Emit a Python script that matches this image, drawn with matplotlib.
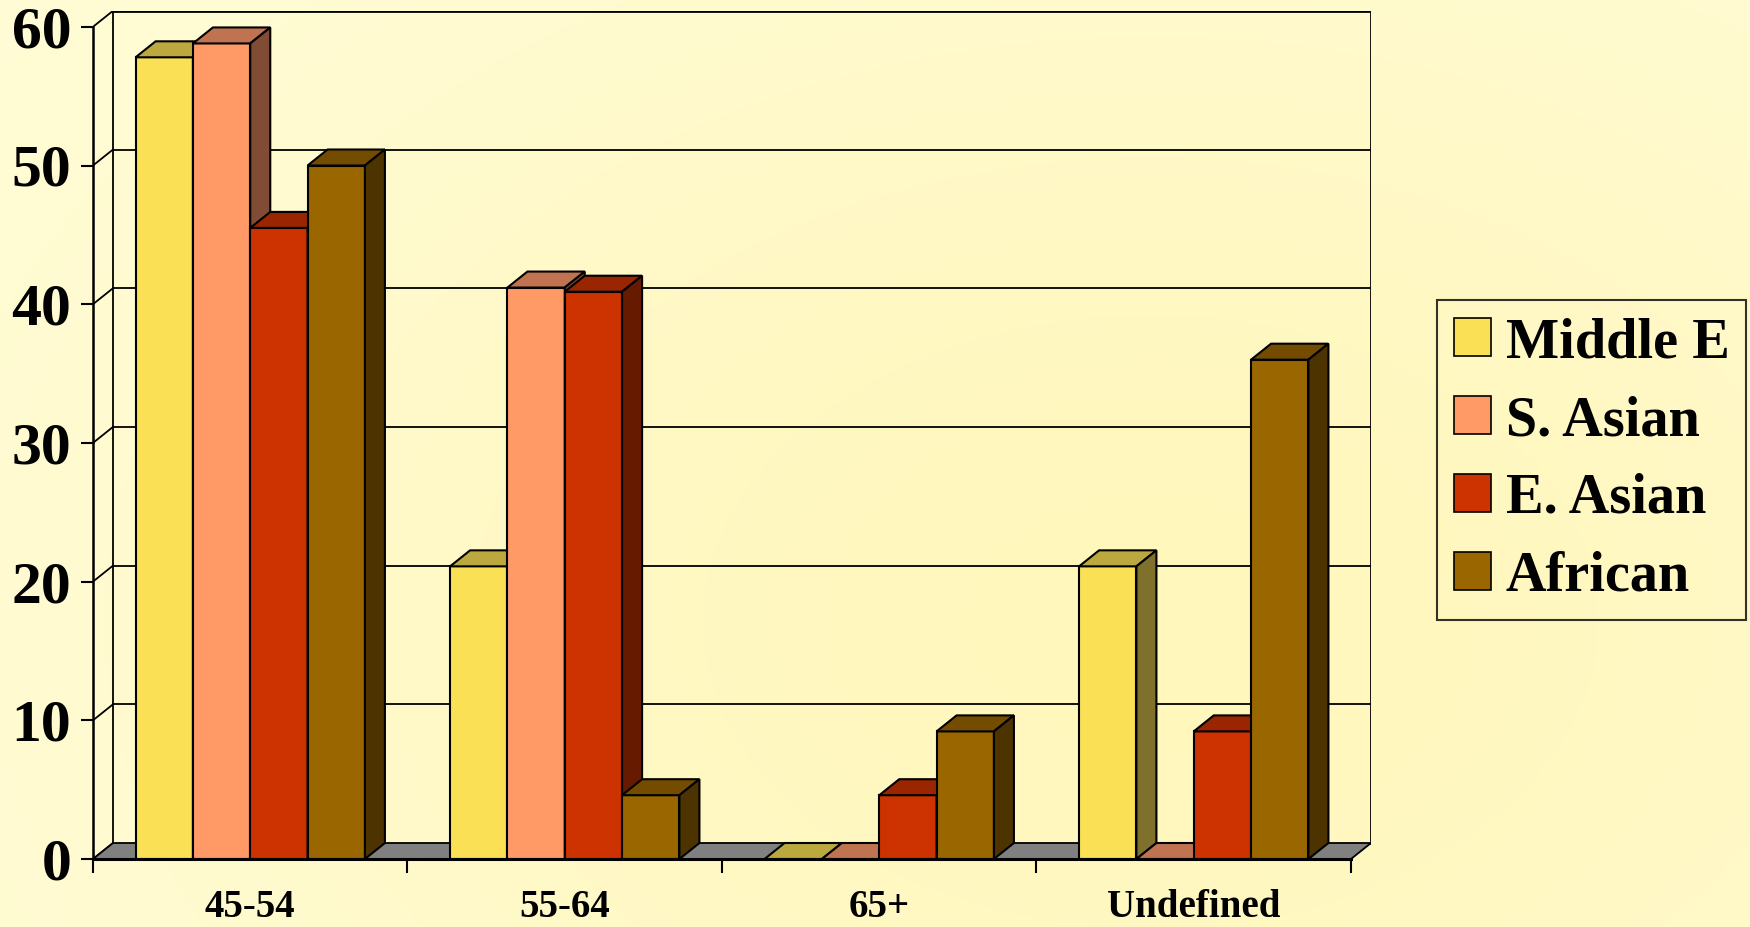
import numpy as np
import matplotlib
matplotlib.use("Agg")
import matplotlib.pyplot as plt
from matplotlib.patches import Polygon, Patch
from matplotlib.font_manager import FontProperties

# data
categories = ["45-54", "55-64", "65+", "Undefined"]
groups = ["Middle E", "S. Asian", "E. Asian", "African"]
middle_e = [57.8, 21.1, 0.0, 21.1]
s_asian = [58.8, 41.2, 0.0, 0.0]
e_asian = [45.5, 40.9, 4.6, 9.2]
african = [50.0, 4.6, 9.2, 36.0]
series = [middle_e, s_asian, e_asian, african]
yticks = [0, 10, 20, 30, 40, 50, 60]

# front / top / side shades for each series
front_cols = ["#f9e054", "#ff9966", "#cc3300", "#996600"]
top_cols = ["#bba83f", "#c07350", "#992600", "#734c00"]
side_cols = ["#7f702b", "#804c33", "#661a00", "#4d3300"]

W, H = 1750, 927
fig = plt.figure(figsize=(W / 100, H / 100), dpi=100)

# soft yellow backdrop
bg = fig.add_axes([0, 0, 1, 1], zorder=-10)
yy, xx = np.mgrid[0:H:4, 0:W:4]
t = np.exp(-((xx - 1150) / 950.0) ** 2 - ((yy - 620) / 650.0) ** 2)
light = np.array([255, 252, 215]) / 255.0
deep = np.array([255, 247, 188]) / 255.0
img = light[None, None, :] + t[..., None] * (deep - light)[None, None, :]
bg.imshow(img, aspect="auto", extent=[0, 1, 0, 1])
bg.axis("off")

# plotting box in pixels
x0, x1 = 93, 1371
y0, y1 = 859, 11
px_per_cat = 314.25
px_per_unit = 13.87
ddx = 20 / px_per_cat
ddy = 16 / px_per_unit

ax = fig.add_axes([x0 / W, (H - y0) / H, (x1 - x0) / W, (y0 - y1) / H])
ax.set_facecolor("none")
ax.set_xlim(0, 4 + ddx)
ax.set_ylim(0, (y0 - y1) / px_per_unit)

lw = 1.3
# back wall and left wall
ax.plot([ddx, 4 + ddx, 4 + ddx], [60 + ddy, 60 + ddy, ddy], color="black", lw=2.0, zorder=0.6)
ax.plot([ddx, ddx], [ddy, 60 + ddy], color="black", lw=lw, zorder=0.6)
for v in yticks:
    ax.plot([0, ddx], [v, v + ddy], color="black", lw=lw, zorder=0.6)
    if 0 < v < 60:
        ax.plot([ddx, 4 + ddx], [v + ddy, v + ddy], color="black", lw=lw, zorder=0.5)

# floor
ax.add_patch(Polygon([(0, 0), (4, 0), (4 + ddx, ddy), (ddx, ddy)], closed=True,
                     facecolor="#808080", edgecolor="black", lw=lw, zorder=1))

bw = 0.1823
start = (1 - 4 * bw) / 2
z = 2
for c in range(len(categories)):
    for s in range(len(series)):
        h = series[s][c]
        x = c + start + s * bw
        ax.bar(x, h, width=bw, align="edge", color=front_cols[s], edgecolor="black",
               lw=1.5, zorder=z)
        ax.add_patch(Polygon([(x, h), (x + bw, h), (x + bw + ddx, h + ddy), (x + ddx, h + ddy)],
                             closed=True, facecolor=top_cols[s], edgecolor="black", lw=1.5, zorder=z))
        if h > 0:
            ax.add_patch(Polygon([(x + bw, 0), (x + bw + ddx, ddy), (x + bw + ddx, h + ddy), (x + bw, h)],
                                 closed=True, facecolor=side_cols[s], edgecolor="black", lw=1.5, zorder=z))
        z += 1

for side in ["top", "right"]:
    ax.spines[side].set_visible(False)
ax.spines["left"].set_bounds(0, 60)
ax.spines["bottom"].set_bounds(0, 4)
ax.spines["left"].set_linewidth(1.8)
ax.spines["bottom"].set_linewidth(2.2)
ax.spines["left"].set_zorder(50)
ax.spines["bottom"].set_zorder(50)

tick_font = FontProperties(family="Liberation Serif", weight="bold", size=43)
ax.set_yticks(yticks)
ax.set_yticklabels([str(v) for v in yticks], fontproperties=tick_font)
ax.tick_params(axis="y", length=8.6, width=1.5, pad=7)
ax.set_xticks([0, 1, 2, 3, 4])
ax.set_xticklabels([])
ax.tick_params(axis="x", length=10, width=1.5)

cat_font = FontProperties(family="Liberation Serif", weight="bold", size=28)
for i, name in enumerate(categories):
    ax.text(i + 0.5, -58 / (y0 - y1), name, transform=ax.get_xaxis_transform(),
            ha="center", va="baseline", fontproperties=cat_font)

handles = [Patch(facecolor=front_cols[i], edgecolor="black", lw=1.2) for i in range(4)]
leg = fig.legend(handles, groups, loc="center left", bbox_to_anchor=(1437 / W, 1 - 460 / H),
                 prop=FontProperties(family="Liberation Serif", weight="bold", size=40.5),
                 frameon=True, fancybox=False, edgecolor="black", facecolor="none",
                 handlelength=0.66, handleheight=0.66, handletextpad=0.26,
                 borderpad=0.3, labelspacing=0.46, borderaxespad=0)
leg.get_frame().set_linewidth(1.5)

fig.savefig("out.png", dpi=100)
